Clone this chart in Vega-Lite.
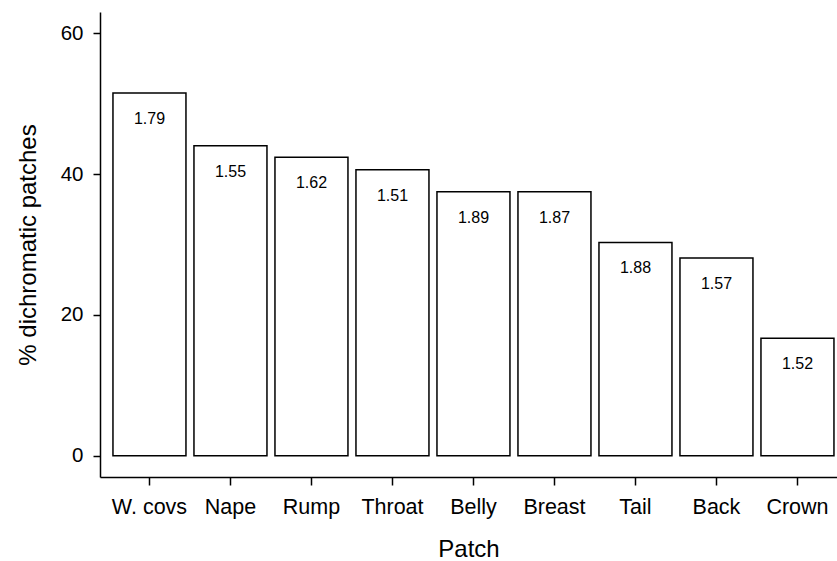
{
  "$schema": "https://vega.github.io/schema/vega-lite/v6.json",
  "width": 737,
  "height": 465,
  "autosize": "none",
  "padding": {"left": 100, "top": 12, "right": 0, "bottom": 84},
  "background": "white",
  "config": {
    "view": {"stroke": null},
    "font": "Liberation Sans",
    "axis": {
      "grid": false,
      "domainColor": "black",
      "domainWidth": 1.5,
      "tickColor": "black",
      "tickWidth": 1.5,
      "labelColor": "black",
      "titleColor": "black",
      "labelFont": "Liberation Sans",
      "titleFont": "Liberation Sans",
      "titleFontSize": 24,
      "titleFontWeight": "normal"
    }
  },
  "data": {
    "values": [
      {"patch": "W. covs", "pct": 51.5, "label": "1.79"},
      {"patch": "Nape", "pct": 44.0, "label": "1.55"},
      {"patch": "Rump", "pct": 42.4, "label": "1.62"},
      {"patch": "Throat", "pct": 40.6, "label": "1.51"},
      {"patch": "Belly", "pct": 37.5, "label": "1.89"},
      {"patch": "Breast", "pct": 37.5, "label": "1.87"},
      {"patch": "Tail", "pct": 30.3, "label": "1.88"},
      {"patch": "Back", "pct": 28.1, "label": "1.57"},
      {"patch": "Crown", "pct": 16.7, "label": "1.52"}
    ]
  },
  "encoding": {
    "x": {
      "field": "patch",
      "type": "nominal",
      "sort": null,
      "title": "Patch",
      "scale": {"paddingInner": 0.0988, "paddingOuter": 0.0988, "align": 0.81},
      "axis": {"labelAngle": 0, "tickSize": 8, "labelPadding": 11, "labelFontSize": 21.5, "titlePadding": 20}
    }
  },
  "layer": [
    {
      "mark": {"type": "bar", "fill": "white", "stroke": "black", "strokeWidth": 1.5},
      "encoding": {
        "y": {
          "field": "pct",
          "type": "quantitative",
          "title": "% dichromatic patches",
          "scale": {"domain": [-3, 63], "nice": false, "zero": false},
          "axis": {"values": [0, 20, 40, 60], "tickSize": 7, "labelPadding": 10, "labelFontSize": 20.5, "titlePadding": 20}
        },
        "y2": {"datum": 0}
      }
    },
    {
      "mark": {"type": "text", "baseline": "middle", "dy": 26, "fontSize": 16, "color": "black", "font": "Liberation Sans"},
      "encoding": {
        "y": {"field": "pct", "type": "quantitative"},
        "text": {"field": "label"}
      }
    }
  ]
}
